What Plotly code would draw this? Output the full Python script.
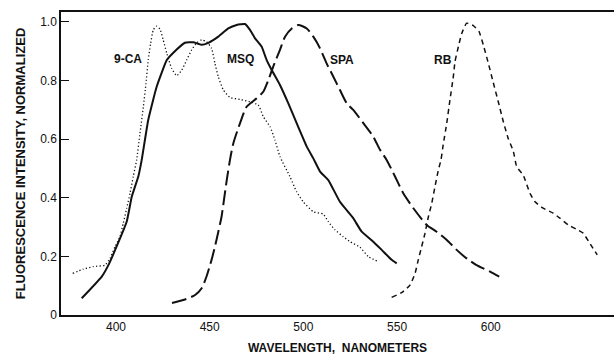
import plotly.graph_objects as go

# --- Data ---
msq_x = [381.7, 392.4, 396.4, 405.7, 408.4, 411.9, 413.7, 417.2, 421.7, 427.1, 430.6, 436.8, 441.2,
         445.7, 449.3, 454.6, 459.9, 464.4, 468.8, 471.5, 474.2, 477.7, 480.4, 483.1, 487.5, 491.9,
         496.4, 501.8, 505.3, 508.9, 513.3, 519.5, 526.6, 531.1, 537.3, 541.8, 547.1, 549.8]
msq_y = [0.057, 0.131, 0.176, 0.318, 0.403, 0.472, 0.528, 0.665, 0.778, 0.869, 0.894, 0.928, 0.930,
         0.921, 0.928, 0.949, 0.977, 0.989, 0.992, 0.972, 0.943, 0.915, 0.869, 0.835, 0.784, 0.722,
         0.654, 0.574, 0.534, 0.489, 0.460, 0.386, 0.330, 0.284, 0.250, 0.222, 0.188, 0.176]

ca_x = [376.9, 382.5, 387.9, 394.1, 396.8, 399.5, 402.1, 403.9, 405.7, 407.5, 409.2, 411.0, 412.8,
        414.6, 416.0, 417.2, 418.5, 419.9, 421.7, 423.5, 425.2, 427.1, 429.7, 432.4, 435.1, 437.7,
        440.4, 443.1, 445.7, 448.3, 451.0, 452.8, 454.6, 457.3, 460.8, 466.2, 471.5, 475.9, 478.6,
        482.2, 484.8, 487.5, 492.8, 496.4, 499.9, 505.3, 510.6, 513.3, 516.9, 521.3, 524.9, 530.2,
        534.7, 540.0]
ca_y = [0.142, 0.156, 0.165, 0.170, 0.193, 0.233, 0.267, 0.313, 0.364, 0.415, 0.472, 0.528, 0.620,
        0.710, 0.790, 0.869, 0.926, 0.972, 0.985, 0.974, 0.938, 0.892, 0.841, 0.816, 0.835, 0.869,
        0.904, 0.928, 0.938, 0.932, 0.909, 0.858, 0.812, 0.767, 0.742, 0.735, 0.727, 0.716, 0.676,
        0.642, 0.597, 0.540, 0.472, 0.420, 0.386, 0.352, 0.344, 0.318, 0.290, 0.267, 0.250, 0.231,
        0.199, 0.182]

spa_x = [429.9, 436.8, 442.2, 445.7, 448.4, 451.0, 452.8, 454.6, 456.3, 457.6, 459.1, 460.8, 462.6,
         466.2, 469.7, 475.1, 478.6, 481.3, 483.9, 487.5, 490.2, 493.8, 497.3, 501.8, 505.3, 508.9,
         512.4, 516.0, 519.5, 523.1, 526.6, 532.0, 537.3, 540.9, 544.5, 548.9, 553.3, 558.7, 565.8,
         571.1, 576.5, 581.8, 587.1, 592.4, 599.6, 604.5]
spa_y = [0.041, 0.053, 0.068, 0.091, 0.133, 0.188, 0.233, 0.284, 0.334, 0.392, 0.460, 0.528, 0.585,
         0.654, 0.710, 0.739, 0.761, 0.801, 0.847, 0.904, 0.949, 0.977, 0.989, 0.977, 0.949, 0.909,
         0.858, 0.812, 0.767, 0.722, 0.699, 0.654, 0.608, 0.563, 0.528, 0.472, 0.415, 0.364, 0.307,
         0.284, 0.256, 0.222, 0.193, 0.170, 0.148, 0.131]

rb_x = [547.1, 552.4, 556.9, 559.6, 561.3, 563.1, 564.9, 566.7, 568.5, 570.2, 572.0, 573.4, 574.6,
        576.5, 578.2, 580.0, 580.9, 582.7, 584.5, 587.1, 590.5, 593.7, 596.0, 598.7, 601.3, 604.0,
        606.7, 609.3, 612.0, 613.8, 617.3, 620.9, 623.6, 628.0, 633.3, 636.9, 641.3, 645.8, 649.3,
        652.9, 656.8]
rb_y = [0.060, 0.076, 0.102, 0.142, 0.188, 0.233, 0.279, 0.335, 0.381, 0.437, 0.494, 0.528, 0.580,
        0.654, 0.733, 0.812, 0.864, 0.915, 0.960, 0.995, 0.987, 0.967, 0.921, 0.858, 0.793, 0.727,
        0.659, 0.602, 0.559, 0.506, 0.477, 0.415, 0.386, 0.364, 0.347, 0.330, 0.307, 0.292, 0.279,
        0.244, 0.205]

x_ticks = [400, 450, 500, 550, 600]
y_ticks = [0, 0.2, 0.4, 0.6, 0.8, 1.0]
y_tick_text = ["0", "0.2", "0.4", "0.6", "0.8", "1.0"]

labels = ["9-CA", "MSQ", "SPA", "RB"]
label_x = [406.5, 466.7, 520.6, 574.6]
label_y = [0.872, 0.872, 0.869, 0.869]

ink = "#111111"
fig = go.Figure()
fig.add_trace(go.Scatter(x=ca_x, y=ca_y, mode="lines", name="9-CA",
                         line=dict(color=ink, width=1.3, dash="1.2px,2.3px", shape="spline", smoothing=0.5)))
fig.add_trace(go.Scatter(x=msq_x, y=msq_y, mode="lines", name="MSQ",
                         line=dict(color=ink, width=2, shape="spline", smoothing=0.4)))
fig.add_trace(go.Scatter(x=spa_x, y=spa_y, mode="lines", name="SPA",
                         line=dict(color=ink, width=2, dash="15px,5px", shape="spline", smoothing=0.6)))
fig.add_trace(go.Scatter(x=rb_x, y=rb_y, mode="lines", name="RB",
                         line=dict(color=ink, width=1.5, dash="5px,4px", shape="spline", smoothing=0.4)))

for t, lx, ly in zip(labels, label_x, label_y):
    fig.add_annotation(x=lx, y=ly, text="<b>%s</b>" % t, showarrow=False,
                       font=dict(family="Liberation Sans, Arial", size=12, color=ink))

fig.update_layout(
    width=614, height=355,
    margin=dict(l=61, r=0, t=12, b=40),
    paper_bgcolor="white", plot_bgcolor="white",
    showlegend=False,
    font=dict(family="Liberation Sans, Arial", size=12, color=ink),
)
fig.update_xaxes(
    range=[370.65, 665.75], tickvals=x_ticks, showgrid=False, zeroline=False,
    showline=True, linecolor=ink, linewidth=1.5, mirror=True,
    ticks="", tickfont=dict(size=12),
    title=dict(text="<b>WAVELENGTH,  NANOMETERS</b>", font=dict(size=12), standoff=11),
)
fig.update_yaxes(
    range=[0, 1.033], tickvals=y_ticks, ticktext=y_tick_text, showgrid=False, zeroline=False,
    showline=True, linecolor=ink, linewidth=1.5, mirror=False,
    ticks="inside", ticklen=8, tickcolor=ink, tickwidth=1, tickfont=dict(size=12),
    title=dict(text="<b>FLUORESCENCE INTENSITY, NORMALIZED</b>", font=dict(size=13), standoff=12),
)

fig.write_html("out.html")
